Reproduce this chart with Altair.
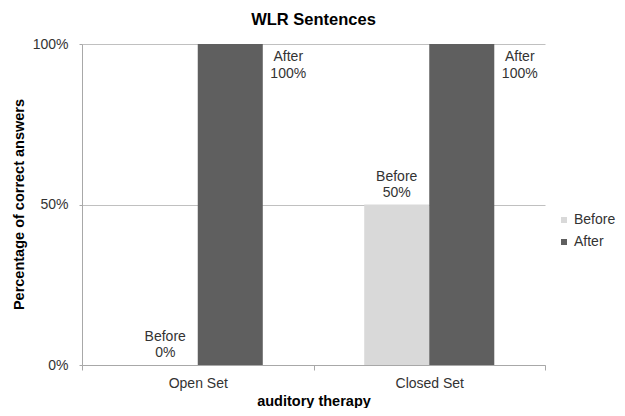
import altair as alt
import pandas as pd

categories = ["Open Set", "Closed Set"]
series = ["Before", "After"]
before_values = [0, 50]
after_values = [100, 100]
y_ticks = [0, 50, 100]
colors = ["#d9d9d9", "#5f5f5f"]

rows = []
for c, b, a in zip(categories, before_values, after_values):
    rows.append({"category": c, "series": "Before", "value": b, "label": f"Before\n{b}%"})
    rows.append({"category": c, "series": "After", "value": a, "label": f"After\n{a}%"})
df = pd.DataFrame(rows)

FONT = "Liberation Sans"

x = alt.X(
    "category:N",
    sort=categories,
    scale=alt.Scale(paddingInner=0, paddingOuter=0),
    axis=alt.Axis(
        title="auditory therapy",
        labelAngle=0,
        tickBand="extent",
        tickSize=5,
        labelPadding=6,
        titleY=36,
        titleBaseline="middle",
        labelFontSize=14,
        titleFontSize=14.5,
        titleFontWeight="bold",
    ),
)
xo = alt.XOffset("series:N", sort=series, scale=alt.Scale(paddingOuter=0.78, paddingInner=0))
y = alt.Y(
    "value:Q",
    scale=alt.Scale(domain=[0, 100]),
    axis=alt.Axis(
        title="Percentage of correct answers",
        values=y_ticks,
        labelExpr="datum.value + '%'",
        tickSize=3,
        labelPadding=11,
        titleX=-63,
        titleY=160,
        titleBaseline="middle",
        labelFontSize=14,
        titleFontSize=14.5,
        titleFontWeight="bold",
        grid=True,
    ),
)
color = alt.Color(
    "series:N",
    sort=series,
    scale=alt.Scale(domain=series, range=colors),
    legend=alt.Legend(
        title=None,
        orient="none",
        legendX=475,
        legendY=169,
        symbolType="square",
        symbolSize=36,
        symbolStrokeWidth=0,
        labelFontSize=14,
        labelOffset=3,
        rowPadding=8,
        padding=0,
    ),
)

base = alt.Chart(df)
bars = base.mark_bar().encode(x=x, xOffset=xo, y=y, color=color)

after_text = base.transform_filter(alt.datum.series == "After").mark_text(
    lineBreak="\n", lineHeight=17, align="center", baseline="top", dx=58, dy=6, fontSize=14, color="#333333"
).encode(x=x, xOffset=xo, y=y, text="label:N")

before_text = base.transform_filter(alt.datum.series == "Before").mark_text(
    lineBreak="\n", lineHeight=16, align="center", baseline="bottom", dy=-21, fontSize=14, color="#333333"
).encode(x=x, xOffset=xo, y=y, text="label:N")

chart = (
    alt.layer(bars, after_text, before_text)
    .properties(
        width=463,
        height=321,
        autosize=alt.AutoSizeParams(type="none"),
        padding={"left": 74, "top": 36, "right": 72, "bottom": 43},
        title=alt.Title(
            "WLR Sentences", fontSize=16.5, fontWeight="bold", anchor="middle",
            frame="group", offset=9, color="#000000",
        ),
    )
    .configure(font=FONT)
    .configure_view(stroke=None)
    .configure_axis(
        domainColor="#a8a8a8",
        tickColor="#a8a8a8",
        gridColor="#c0c0c0",
        labelColor="#333333",
        titleColor="#000000",
        labelFont=FONT,
        titleFont=FONT,
    )
    .configure_legend(labelColor="#333333", labelFont=FONT)
)

chart.save("out.html", embed_options={"renderer": "svg", "actions": False})
